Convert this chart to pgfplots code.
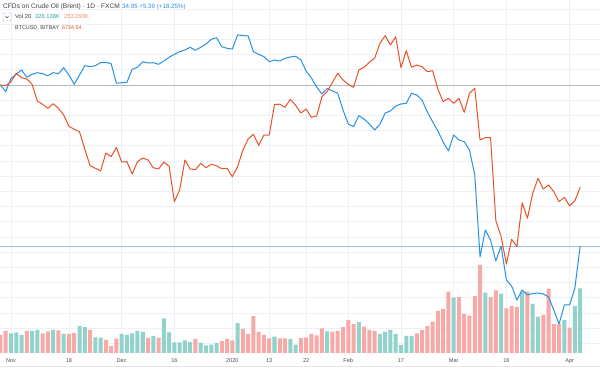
\documentclass[border=0pt]{standalone}
\usepackage{fontspec}
\setmainfont{Liberation Sans}
\usepackage{pgfplots}
\usepackage{pgfplotstable}
\pgfplotsset{compat=1.18}

\definecolor{oilblue}{RGB}{41,145,228}
\definecolor{btcred}{RGB}{232,83,40}
\definecolor{volg}{RGB}{146,210,204}
\definecolor{volr}{RGB}{247,169,167}
\definecolor{gridc}{RGB}{235,241,247}
\definecolor{basec}{RGB}{178,184,192}
\definecolor{pricec}{RGB}{150,195,236}
\definecolor{axisc}{RGB}{195,198,202}
\definecolor{labelc}{RGB}{80,82,86}
\definecolor{titlec}{RGB}{60,62,66}
\definecolor{vgtext}{RGB}{38,166,154}
\definecolor{matext}{RGB}{240,140,110}
\definecolor{stripc}{RGB}{228,230,233}
\definecolor{boxc}{RGB}{190,194,200}

\pgfplotstableread{
i oil btc
-2 0 0
-1 -1.76 -0.18
0 1.76 0.87
1 2.82 3.08
2 3.95 1.92
3 2.03 1.58
4 2.82 0.18
5 3.24 -4.21
6 2.97 -5.08
7 2.45 -6.13
8 3.24 -4.92
9 2.97 -6.13
10 4.55 -7.89
11 2.63 -10.87
12 0.18 -11.66
13 2.63 -12.29
14 5.08 -16.84
15 4.82 -21.24
16 5.08 -21.92
17 5.87 -22.63
18 5.97 -17.89
19 5.61 -18.87
20 0.45 -16.45
21 0.61 -20.26
22 0.71 -20.18
23 4.13 -23.42
24 4.66 -20.18
25 6.13 -19.21
26 5.79 -19.74
27 5.87 -21.76
28 5.45 -22.11
29 6.32 -20.26
30 7.29 -21.37
31 8.08 -30.71
32 8.76 -27.63
33 9.21 -19.74
34 9.92 -22.11
35 9.13 -22.29
36 9.92 -20.61
37 10.79 -21.76
38 12.03 -20.87
39 12.45 -21.26
40 10.08 -22.03
41 9.66 -21.92
42 9.47 -24.16
43 13.16 -21.50
44 13.03 -17.11
45 12.89 -14.21
46 8.76 -12.97
47 8.08 -15.87
48 7.45 -13.16
49 6.13 -13.16
50 6.58 -5.13
51 6.32 -5.05
52 7.03 -5.87
53 7.37 -3.76
54 7.55 -5.34
55 6.58 -7.37
56 3.68 -6.32
57 1.84 -8.50
58 -0.53 -8.16
59 -2.37 -3.08
60 -0.92 -1.76
61 -1.58 0.71
62 -2.18 3.08
63 -6.58 1.32
64 -10.26 0.18
65 -10.97 -0.61
66 -8.08 3.95
67 -8.95 4.68
68 -10.26 5.97
69 -11.84 7.03
70 -10.34 10.97
71 -7.37 12.97
72 -6.84 10.53
73 -5.53 12.71
74 -5.00 4.55
75 -4.82 9.03
76 -2.18 4.66
77 -2.63 5.26
78 -3.95 4.82
79 -7.11 3.50
80 -9.66 3.76
81 -12.11 -1.05
82 -15.00 -4.39
83 -17.37 -3.50
84 -13.16 -4.82
85 -14.47 -3.50
86 -14.92 -7.18
87 -17.11 -2.18
88 -23.68 -0.87
89 -45.26 -14.47
90 -38.16 -13.87
91 -40.79 -13.87
92 -46.32 -35.71
93 -42.37 -39.92
94 -51.32 -47.11
95 -52.89 -40.61
96 -56.58 -42.55
97 -53.95 -30.97
98 -55.26 -35.08
99 -54.87 -28.50
100 -54.74 -24.55
101 -55.00 -27.37
102 -55.79 -26.32
103 -59.21 -28.08
104 -62.89 -30.71
105 -57.89 -29.55
106 -57.89 -31.84
107 -53.42 -30.45
108 -42.37 -26.92
}\linestable

\pgfplotstableread{
i vol
0 99
1 104
2 91
4 111
5 117
8 117
10 96
13 136
14 131
16 79
17 77
21 96
22 91
23 99
24 111
25 106
27 86
29 175
30 104
31 54
32 54
33 64
34 55
36 52
37 39
38 42
39 50
43 150
50 82
53 71
54 42
60 109
66 156
70 96
71 107
72 116
73 97
74 40
75 86
76 86
84 279
90 304
93 299
97 309
99 247
100 183
105 166
107 238
108 326
}\volgreen

\pgfplotstableread{
i vol
-2 91
-1 111
3 111
6 99
7 109
9 114
11 97
12 101
15 116
18 66
19 35
20 72
26 76
28 77
35 71
40 60
41 71
42 64
44 121
45 96
46 186
47 107
48 91
49 74
51 74
52 74
55 75
56 77
57 96
58 89
59 124
61 106
62 112
63 130
64 166
65 146
67 133
68 116
69 112
77 99
78 116
79 136
80 158
81 212
82 222
83 309
85 281
86 197
87 188
88 287
89 444
91 281
92 316
94 225
95 238
96 233
98 309
101 192
102 323
103 145
104 145
106 128
}\volred

\pgfplotsset{
  base/.style={
    at={(0,18bp)}, anchor=south west, scale only axis,
    width=600bp, height=353bp,
    xmin=-2.087, xmax=111.765,
  }
}

\begin{document}
\begin{tikzpicture}
\path[use as bounding box] (0,0) rectangle (600bp,371bp);
\fill[white] (0,0) rectangle (600bp,371bp);

% grid and time axis
\begin{axis}[base,
  ymin=-70.53, ymax=22.37,
  xtick={0,11,21,31,42,49,56,64,74,84,94,106},
  xticklabels={Nov,18,Dec,16,2020,13,22,Feb,17,Mar,16,Apr},
  ytick={-68,-64,...,20}, yticklabels={},
  grid=major,
  major grid style={draw=gridc, line width=0.6bp},
  axis line style={draw=none},
  tick style={draw=none},
  xticklabel style={font=\fontsize{5.6bp}{6.7bp}\selectfont, text=labelc,
    inner sep=0pt, anchor=north, yshift=-5bp},
]
\draw[axisc, line width=0.8bp] (rel axis cs:0,0) -- (rel axis cs:1,0);
\end{axis}

% volume
\begin{axis}[base, ymin=0, ymax=1779.1, hide axis]
\addplot[ybar, bar width=0.76, bar shift=0pt, fill=volg, draw=none] table[x=i,y=vol]{\volgreen};
\addplot[ybar, bar width=0.76, bar shift=0pt, fill=volr, draw=none] table[x=i,y=vol]{\volred};
\end{axis}

% percentage lines
\begin{axis}[base, ymin=-70.53, ymax=22.37, hide axis]
\draw[basec, line width=0.8bp] (axis cs:-2.087,0) -- (axis cs:111.765,0);
\draw[pricec, line width=0.6bp] (axis cs:-2.087,-42.37) -- (axis cs:111.765,-42.37);
\addplot[oilblue, line width=1bp, line join=round] table[x=i,y=oil]{\linestable};
\addplot[btcred, line width=1bp, line join=round] table[x=i,y=btc]{\linestable};
\end{axis}

% bottom strip line
\draw[stripc, line width=0.6bp] (0,5bp) -- (600bp,5bp);

% legend texts
\node[anchor=base west, inner sep=0pt, font=\fontsize{6.6bp}{7.8bp}\selectfont, text=titlec]
  at (3bp,362.5bp) {CFDs on Crude Oil (Brent) · 1D · FXCM};
\node[anchor=base west, inner sep=0pt, font=\fontsize{6.2bp}{7.4bp}\selectfont, text=oilblue]
  at (122bp,362.5bp) {34.95 +5.39 (+18.25\%)};

\draw[boxc, line width=0.4bp, rounded corners=1bp]
  (3bp,350bp) rectangle (11bp,358bp);
\draw[titlec, line width=0.5bp] (5.4bp,355bp) -- (7bp,353.3bp) -- (8.6bp,355bp);

\node[anchor=base west, inner sep=0pt, font=\fontsize{5.8bp}{7bp}\selectfont, text=titlec]
  at (15bp,352bp) {Vol 20};
\node[anchor=base west, inner sep=0pt, font=\fontsize{5.8bp}{7bp}\selectfont, text=vgtext]
  at (35bp,352bp) {326.138K};
\node[anchor=base west, inner sep=0pt, font=\fontsize{5.8bp}{7bp}\selectfont, text=matext]
  at (64bp,352bp) {253.293K};

\node[anchor=base west, inner sep=0pt, font=\fontsize{5.4bp}{6.5bp}\selectfont, text=titlec]
  at (15bp,341bp) {BTCUSD, BITBAY};
\node[anchor=base west, inner sep=0pt, font=\fontsize{5.4bp}{6.5bp}\selectfont, text=btcred]
  at (62bp,341bp) {6734.54};
\end{tikzpicture}
\end{document}
